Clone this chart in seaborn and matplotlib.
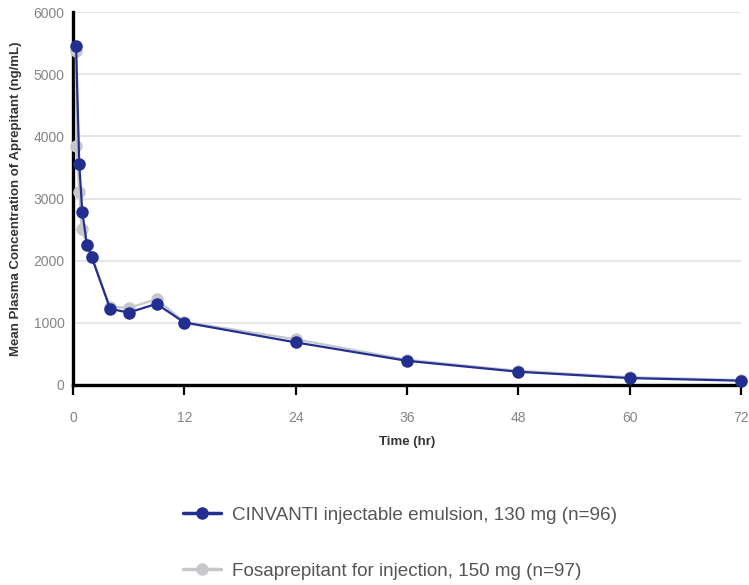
"""Mean plasma aprepitant concentration over time, two formulations."""

import numpy as np
import pandas as pd
import seaborn as sns
import matplotlib.pyplot as plt
from matplotlib.lines import Line2D

# Values
cinvanti_time = [0.33, 0.67, 1, 1.5, 2, 4, 6, 9, 12, 24, 36, 48, 60, 72]
cinvanti_conc = [5450, 3560, 2780, 2260, 2065, 1225, 1165, 1305, 1005, 685, 388, 212, 110, 68]

fosa_time = [0.3, 0.36, 0.67, 0.92, 1.5, 2, 4, 6, 9, 12, 24, 36, 48, 60, 72]
fosa_conc = [5380, 3850, 3100, 2510, 2250, 2060, 1260, 1240, 1380, 1015, 735, 405, 228, 125, 80]

cinvanti_label = "CINVANTI injectable emulsion, 130 mg (n=96)"
fosa_label = "Fosaprepitant for injection, 150 mg (n=97)"

x_ticks = [0, 12, 24, 36, 48, 60, 72]
y_ticks = [0, 1000, 2000, 3000, 4000, 5000, 6000]

BLUE = "#232f90"
GREY = "#c6c7cb"

df = pd.concat([
    pd.DataFrame({"time": fosa_time, "conc": fosa_conc, "group": fosa_label}),
    pd.DataFrame({"time": cinvanti_time, "conc": cinvanti_conc, "group": cinvanti_label}),
])

sns.set_theme(style="white")
plt.rcParams["font.family"] = ["Liberation Sans", "DejaVu Sans"]

fig = plt.figure(figsize=(7.49, 5.85), dpi=100)
ax = fig.add_axes([0.0975, 0.342, 0.892, 0.637])

sns.lineplot(
    data=df, x="time", y="conc", hue="group",
    hue_order=[fosa_label, cinvanti_label],
    palette={fosa_label: GREY, cinvanti_label: BLUE},
    marker="o", markersize=9, markeredgewidth=0, linewidth=1.6,
    ax=ax, legend=False, clip_on=False, zorder=3,
)

ax.set_xlim(0, 72)
ax.set_ylim(0, 6000)
ax.set_xticks(x_ticks)
ax.set_yticks(y_ticks)
ax.yaxis.grid(True, color="#e6e6e6", linewidth=1.5, zorder=0)
ax.xaxis.grid(False)

for side in ["top", "right"]:
    ax.spines[side].set_visible(False)
for side in ["left", "bottom"]:
    ax.spines[side].set_color("black")
    ax.spines[side].set_linewidth(2.4)
    ax.spines[side].set_zorder(2)

ax.tick_params(axis="x", direction="out", length=7, width=1.6, color="black",
               labelsize=10, labelcolor="#858585", pad=12)
ax.tick_params(axis="y", length=0, labelsize=10, labelcolor="#858585", pad=6)
ax.tick_params(axis="x", bottom=True)

ax.set_xlabel("Time (hr)", fontsize=9.5, fontweight="bold", color="#333333", labelpad=8)
ax.set_ylabel("Mean Plasma Concentration of Aprepitant (ng/mL)", fontsize=9.5,
              fontweight="bold", color="#333333", labelpad=8)

handles = [
    Line2D([], [], color=BLUE, marker="o", markersize=9, markeredgewidth=0, linewidth=2.5),
    Line2D([], [], color=GREY, marker="o", markersize=9, markeredgewidth=0, linewidth=2.5),
]
fig.legend(handles, [cinvanti_label, fosa_label], loc="upper left",
           bbox_to_anchor=(0.222, 0.163), frameon=False, fontsize=13.6,
           labelcolor="#555555", handlelength=2.0, handletextpad=0.6,
           labelspacing=2.05)

plt.savefig("out.png", dpi=100)
